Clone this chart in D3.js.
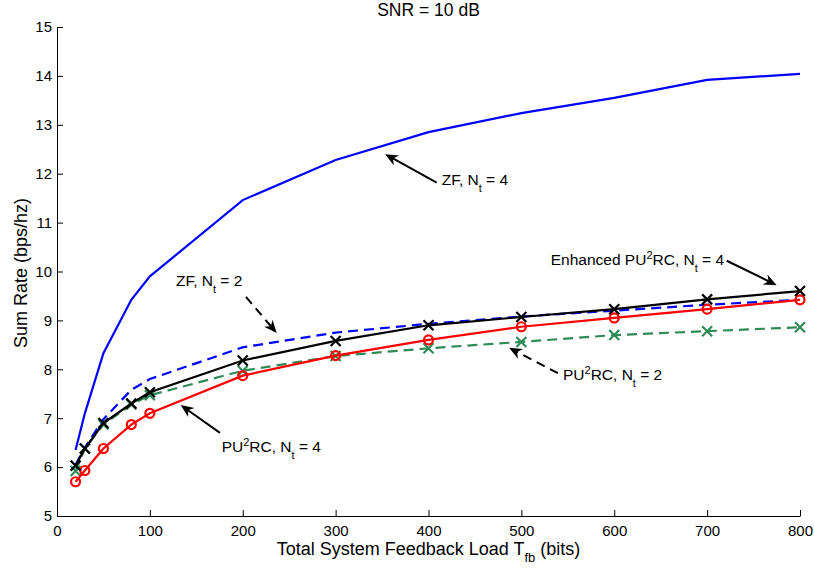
<!DOCTYPE html>
<html><head><meta charset="utf-8">
<script src="https://cdn.jsdelivr.net/npm/d3@7"></script>
<style>
body{margin:0;background:#fff;}
text{font-family:"Liberation Sans",Arial,Helvetica,sans-serif;fill:#000;}
</style></head>
<body><svg id="c" width="814" height="571"></svg>
<script>
const feedback = [20, 30, 50, 80, 100, 200, 300, 400, 500, 600, 700, 800];
const zfNt4 = [6.35, 7.1, 8.33, 9.42, 9.9, 11.46, 12.28, 12.85, 13.24, 13.55, 13.92, 14.04];
const zfNt2 = [6.05, 6.4, 6.98, 7.58, 7.8, 8.45, 8.75, 8.93, 9.08, 9.2, 9.32, 9.42];
const enhNt4 = [6.03, 6.38, 6.9, 7.3, 7.53, 8.18, 8.58, 8.9, 9.07, 9.23, 9.43, 9.6];
const pu2rcNt4 = [5.7, 5.93, 6.38, 6.87, 7.1, 7.87, 8.28, 8.6, 8.87, 9.05, 9.23, 9.42];
const pu2rcNt2 = [5.92, 6.38, 6.87, 7.28, 7.47, 7.97, 8.27, 8.43, 8.56, 8.7, 8.78, 8.86];
const xTicks = [0, 100, 200, 300, 400, 500, 600, 700, 800];
const yTicks = [5, 6, 7, 8, 9, 10, 11, 12, 13, 14, 15];

const svg = d3.select("#c");
const x = d3.scaleLinear().domain([0, 800]).range([57, 800]);
const y = d3.scaleLinear().domain([5, 15]).range([516, 27]);

// axes
const xAxis = d3.axisBottom(x).tickValues(xTicks).tickSizeInner(-6).tickSizeOuter(0).tickPadding(9);
const yAxis = d3.axisLeft(y).tickValues(yTicks).tickSizeInner(-6).tickSizeOuter(0).tickPadding(5);
const gx = svg.append("g").attr("transform", "translate(0,516)").call(xAxis);
const gy = svg.append("g").attr("transform", "translate(57,0)").call(yAxis);
[gx, gy].forEach(g => {
  g.selectAll("text").attr("font-size", 15).style("font-family", '"Liberation Sans",Arial,sans-serif').attr("fill", "#000");
  g.selectAll("line").attr("stroke", "#000").attr("stroke-width", 1);
  g.select(".domain").attr("stroke", "#000").attr("stroke-width", 1);
});

// series
const series = [
  {vals: zfNt4, color: "#0000ff", dash: null, marker: null},
  {vals: zfNt2, color: "#0000ff", dash: "10,6", marker: null},
  {vals: pu2rcNt2, color: "#2e8b57", dash: "10,6", marker: "x"},
  {vals: pu2rcNt4, color: "#ff0000", dash: null, marker: "o"},
  {vals: enhNt4, color: "#000000", dash: null, marker: "x"}
];
const line = d3.line().x((d, i) => x(feedback[i])).y(d => y(d));
series.forEach(s => {
  svg.append("path").datum(s.vals).attr("d", line)
    .attr("fill", "none").attr("stroke", s.color).attr("stroke-width", 2.2)
    .attr("stroke-dasharray", s.dash);
  if (s.marker === "x") {
    const g = svg.append("g");
    s.vals.forEach((v, i) => {
      const cx = x(feedback[i]), cy = y(v), r = 5;
      g.append("path").attr("d", `M${cx-r},${cy-r}L${cx+r},${cy+r}M${cx-r},${cy+r}L${cx+r},${cy-r}`)
        .attr("stroke", s.color).attr("stroke-width", 2.2).attr("fill", "none");
    });
  } else if (s.marker === "o") {
    svg.append("g").selectAll("circle").data(s.vals).join("circle")
      .attr("cx", (d, i) => x(feedback[i])).attr("cy", d => y(d)).attr("r", 4.5)
      .attr("fill", "none").attr("stroke", s.color).attr("stroke-width", 2.2);
  }
});

// annotations (data coordinates)
const notes = [
  {tail: [408.8, 11.82], head: [353.2, 12.40], text: [414.2, 11.77], dashed: false, label: [["ZF, N", 0], ["t", 1], [" = 4", 0]]},
  {tail: [203.5, 9.48], head: [236.6, 8.74], text: [128.1, 9.70], dashed: true, label: [["ZF, N", 0], ["t", 1], [" = 2", 0]]},
  {tail: [721.1, 10.22], head: [774.9, 9.72], text: [531.6, 10.13], dashed: false, label: [["Enhanced PU", 0], ["2", -1], ["RC, N", 0], ["t", 1], [" = 4", 0]]},
  {tail: [539.4, 7.92], head: [486.7, 8.44], text: [544.8, 7.78], dashed: true, label: [["PU", 0], ["2", -1], ["RC, N", 0], ["t", 1], [" = 2", 0]]},
  {tail: [175.5, 6.70], head: [133.2, 7.27], text: [177.3, 6.31], dashed: false, label: [["PU", 0], ["2", -1], ["RC, N", 0], ["t", 1], [" = 4", 0]]}
];
notes.forEach(n => {
  const x1 = x(n.tail[0]), y1 = y(n.tail[1]), x2 = x(n.head[0]), y2 = y(n.head[1]);
  const ang = Math.atan2(y2 - y1, x2 - x1);
  const L = 13, W = 5.5, back = 9;
  const bx = x2 - back * Math.cos(ang), by = y2 - back * Math.sin(ang);
  svg.append("line").attr("x1", x1).attr("y1", y1).attr("x2", bx).attr("y2", by)
    .attr("stroke", "#000").attr("stroke-width", 2).attr("stroke-dasharray", n.dashed ? "9,6" : null);
  const px = -Math.sin(ang), py = Math.cos(ang);
  const ex = x2 - L * Math.cos(ang), ey = y2 - L * Math.sin(ang);
  svg.append("path")
    .attr("d", `M${x2},${y2}L${ex + W*px},${ey + W*py}L${bx},${by}L${ex - W*px},${ey - W*py}Z`)
    .attr("fill", "#000");
  const t = svg.append("text").attr("x", x(n.text[0])).attr("y", y(n.text[1])).attr("font-size", 15.5);
  let prev = 0;
  n.label.forEach(([s, k]) => {
    const ts = t.append("tspan").text(s);
    const target = k === 1 ? 7 : (k === -1 ? -6 : 0);
    if (k !== 0) ts.attr("font-size", 11);
    ts.attr("dy", target - prev);
    prev = target;
  });
});

// title and axis labels
svg.append("text").attr("x", 428.5).attr("y", 16).attr("text-anchor", "middle").attr("font-size", 17.5).text("SNR = 10 dB");
const xl = svg.append("text").attr("x", 428.5).attr("y", 555).attr("text-anchor", "middle").attr("font-size", 18);
xl.append("tspan").text("Total System Feedback Load T");
xl.append("tspan").text("fb").attr("font-size", 13).attr("dy", 7);
xl.append("tspan").text(" (bits)").attr("dy", -7);
svg.append("text").attr("transform", "translate(27,273) rotate(-90)").attr("text-anchor", "middle").attr("font-size", 18).text("Sum Rate (bps/hz)");
</script></body></html>
